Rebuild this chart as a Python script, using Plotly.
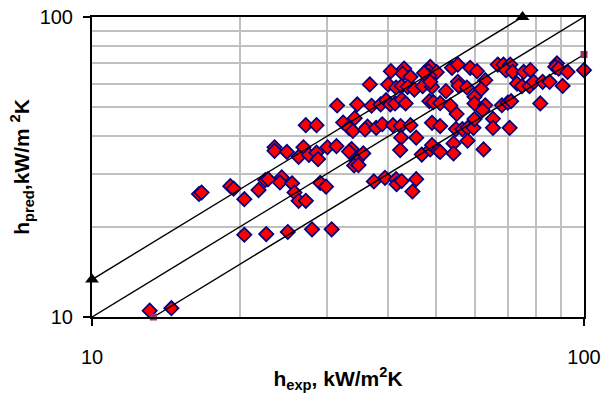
import plotly.graph_objects as go

# Measured vs. predicted heat transfer coefficients (kW/m2K)
h_exp = [
    13.1, 14.5, 16.5, 16.7, 19.1, 19.4, 20.4, 20.4, 22.6, 25.0, 28.0, 30.7,
    21.8, 22.5, 22.8, 24.3, 24.1, 25.5, 25.8, 26.3, 27.2, 29.1, 29.9,
    31.5, 27.2, 28.6, 32.4, 23.5, 23.5, 24.9, 26.3, 26.9, 27.6, 28.6, 28.8, 30.1, 31.4,
    40.5, 43.1, 42.8, 44.4, 48.7, 48.3, 50.2, 48.5, 47.3,
    36.7, 40.0, 41.5, 42.6, 43.8, 45.2, 47.0, 49.1, 48.7,
    34.6, 37.0, 38.6, 39.6, 40.4, 41.3, 42.6, 43.4, 48.5, 49.4, 51.0,
    34.2, 33.3, 33.9, 36.3, 35.9, 37.8, 38.9, 40.9, 42.4, 44.4,
    42.5, 45.6, 42.3, 46.8, 48.7, 49.1, 50.6, 33.7, 33.3, 35.6, 34.5, 34.1, 34.8,
    37.4, 39.4, 41.5, 41.6, 42.6, 45.6, 44.8,
    49.1, 51.0, 55.1, 53.5,
    53.9, 55.4, 58.7, 60.6, 66.8, 68.6, 70.8, 69.4, 71.6, 75.4, 77.8,
    55.4, 55.6, 57.8, 63.0, 61.8, 52.4, 73.1, 74.8, 77.5, 79.0,
    59.9, 59.9, 63.0, 62.2, 68.1, 70.0, 71.1,
    54.9, 56.6, 58.0, 59.6, 59.9, 65.3, 65.3, 70.6,
    54.3, 58.0, 54.3, 51.0, 62.5,
    88.1, 87.4, 88.8, 92.6, 100.0, 82.4, 85.1, 90.5, 81.5,
]
h_pred = [
    10.5, 10.7, 25.7, 26.0, 27.3, 26.8, 24.7, 18.8, 18.9, 19.2, 19.6, 19.6,
    26.5, 28.6, 28.8, 29.2, 28.1, 27.9, 26.0, 24.4, 24.4, 28.0, 27.2,
    50.7, 43.6, 43.6, 44.5, 36.8, 35.8, 35.5, 34.2, 36.8, 34.7, 35.3, 33.6, 36.8, 37.1,
    66.0, 67.3, 64.8, 63.2, 68.2, 66.0, 65.5, 63.7, 65.1,
    59.6, 59.6, 58.2, 58.9, 58.5, 57.3, 58.8, 58.5, 60.8,
    51.1, 50.6, 51.1, 52.8, 51.1, 51.5, 53.1, 51.5, 52.4, 52.0, 51.6,
    46.0, 42.7, 41.7, 43.1, 42.2, 42.7, 43.9, 43.6, 43.3, 43.6,
    39.6, 39.6, 36.0, 34.8, 36.2, 37.4, 35.9, 36.3, 35.6, 35.1, 33.2, 32.0, 32.1,
    28.3, 29.1, 28.8, 27.7, 28.4, 28.8, 26.2,
    44.4, 43.3, 47.5, 50.7,
    67.7, 69.4, 67.7, 66.0, 69.4, 69.4, 69.4, 66.5, 65.6, 65.6, 66.5,
    60.8, 59.0, 58.2, 61.6, 57.5, 56.6, 60.0, 58.8, 58.8, 60.8,
    54.2, 51.5, 50.8, 48.9, 50.8, 51.8, 52.4,
    42.3, 42.3, 42.7, 42.7, 45.7, 45.8, 42.7, 42.7,
    37.9, 38.7, 35.1, 35.5, 36.2,
    70.0, 68.2, 67.3, 65.6, 66.5, 60.8, 60.8, 58.9, 51.5,
]

# Reference lines: perfect agreement and the +33% / -25% band
line_x = [10, 100]
line_y = [10, 100]
upper_x = [10, 75]
upper_y = [13.33, 100]
lower_x = [13.33, 100]
lower_y = [10, 75]

fig = go.Figure()

fig.add_trace(go.Scatter(
    x=h_exp, y=h_pred, mode="markers", cliponaxis=False,
    marker=dict(symbol="diamond", size=11, color="#ff0000",
                line=dict(color="#000080", width=1.7)),
    showlegend=False,
))
fig.add_trace(go.Scatter(
    x=line_x, y=line_y, mode="lines", cliponaxis=False,
    line=dict(color="black", width=1.4), showlegend=False,
))
fig.add_trace(go.Scatter(
    x=upper_x, y=upper_y, mode="lines+markers", cliponaxis=False,
    line=dict(color="black", width=1.4),
    marker=dict(symbol="triangle-up", size=12, color="black"),
    showlegend=False,
))
fig.add_trace(go.Scatter(
    x=lower_x, y=lower_y, mode="lines+markers", cliponaxis=False,
    line=dict(color="black", width=1.4),
    marker=dict(symbol="square", size=7, color="#993366"),
    showlegend=False,
))

grid_vals = [20, 30, 40, 50, 60, 70, 80, 90]
tick_font = dict(family="Liberation Sans, Arial", size=20, color="black")
title_font = dict(family="Liberation Sans, Arial", size=21, color="black")

axis_common = dict(
    type="log",
    range=[1, 2],
    tickvals=[10, 100],
    ticktext=["10", "100"],
    ticks="outside",
    ticklen=7,
    tickwidth=1.5,
    tickcolor="black",
    showline=True,
    linecolor="black",
    linewidth=2,
    mirror=True,
    showgrid=False,
    zeroline=False,
    automargin=False,
    tickfont=tick_font,
    minor=dict(tickvals=grid_vals, showgrid=True, gridcolor="#c0c0c0",
               gridwidth=1.5, ticks=""),
)

fig.update_xaxes(
    **axis_common,
    ticklabelstandoff=14,
    title=dict(text="<b>h<sub>exp</sub>, kW/m<sup>2</sup>K</b>",
               font=title_font, standoff=4),
)
fig.update_yaxes(
    **axis_common,
    ticklabelstandoff=6,
    title=dict(text="<b>h<sub>pred</sub>,kW/m <sup>2</sup>K</b>",
               font=title_font, standoff=4),
)

fig.update_layout(
    width=601, height=397,
    margin=dict(l=92, r=17, t=17, b=80),
    plot_bgcolor="white",
    paper_bgcolor="white",
)

fig.write_html("out.html")
